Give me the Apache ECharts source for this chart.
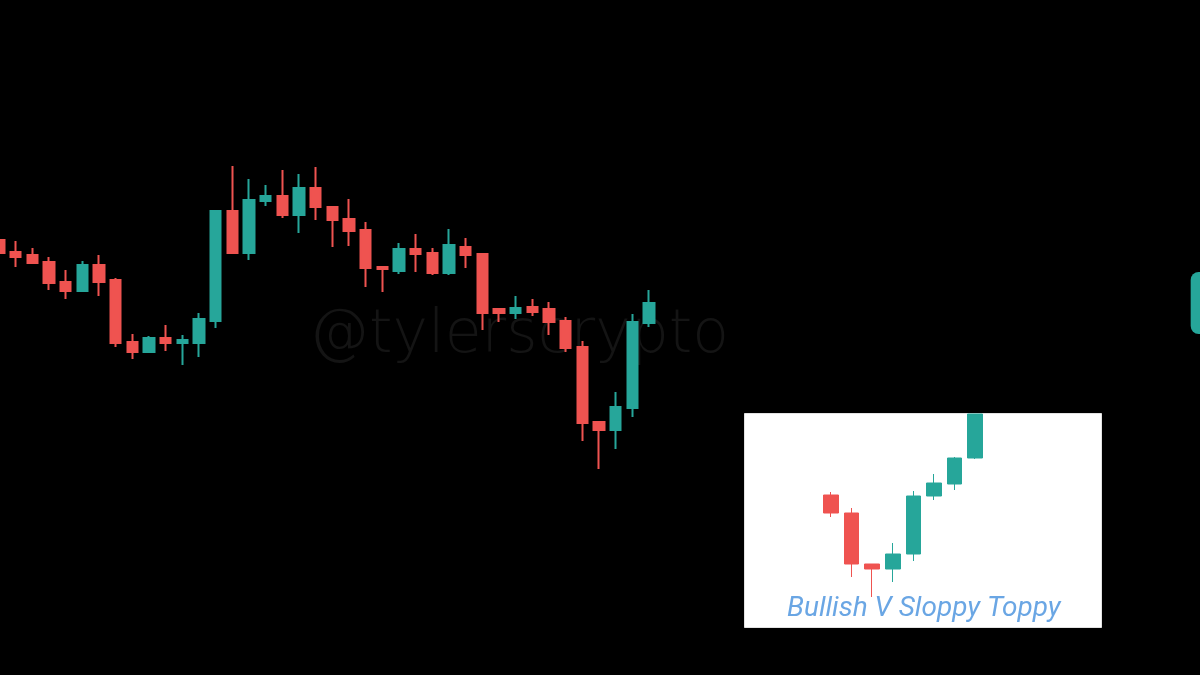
<!DOCTYPE html>
<html>
<head>
<meta charset="utf-8">
<script src="https://cdn.jsdelivr.net/npm/echarts@6/dist/echarts.min.js"></script>
<style>
html,body{margin:0;padding:0;background:#000;}
#chart{width:1200px;height:675px;}
</style>
</head>
<body>
<div id="chart"></div>
<script>
// Main chart candles: [open, close, low, high]
const mainCandles = [
  [760,747,744,785],[748,743,733,759],[745,737,736,752],[738,717,710,743],
  [718,709,701,730],[709,735,709,739],[735,718,704,745],[720,657,653,722],
  [658,648,641,666],[648,662,648,664],[662,657,649,675],[657,660,635,665],
  [657,681,643,687],[679,789,672,790],[789,747,747,834],[747,800,740,821],
  [799,804,794,815],[804,785,782,830],[785,812,767,826],[812,793,780,833],
  [793,780,753,793],[781,769,754,801],[770,732,713,778],[733,731,708,733],
  [729,751,726,757],[751,746,728,766],[747,727,725,752],[727,755,725,771],
  [753,745,732,762],[746,687,670,746],[691,687,678,691],[687,692,681,704],
  [693,688,684,701],[691,678,665,698],[679,652,648,683],[653,577,559,659],
  [578,570,531,578],[570,593,551,608],[592,678,583,686],[677,697,673,710]
];
const mainSlots = 72; // total category slots incl. empty space on the right
const lastClose = mainCandles[mainCandles.length - 1][1];

// Inset pattern candles: [open, close, low, high] (last one cut at the box top)
const insetCandles = [
  [505,487,483,508],[487,436,423,492],[436,431,403,436],[431,446,418,457],
  [446,504,439,509],[504,517,500,526],[516,542,510,543],[542,586,541,586]
];

const watermarkText = '@tylerscrypto';
const insetTitle = 'Bullish V Sloppy Toppy';

const UP = '#26a69a', DOWN = '#ef5350';

const mainCats = Array.from({length: mainSlots}, (_, i) => 'c' + i);
const insetCats = insetCandles.map((_, i) => 'p' + i);

const chart = echarts.init(document.getElementById('chart'), null, {renderer: 'canvas'});
chart.setOption({
  backgroundColor: '#000000',
  animation: false,
  graphic: [
    {
      type: 'text', z: 0, left: 309, top: 306,
      style: {
        text: watermarkText, fill: '#141414',
        font: '300 60px "DejaVu Sans"'
      }
    },
    {
      type: 'rect', z: 0, left: 744, top: 413,
      shape: {width: 357, height: 214},
      style: {fill: '#ffffff', stroke: '#e2e2e2', lineWidth: 1}
    },
    {
      type: 'text', z: 5, left: 787, top: 595,
      style: {
        text: insetTitle, fill: '#6aa6e4',
        font: 'italic 28px Roboto'
      }
    }
  ],
  grid: [
    {left: -9.33, right: 9.33, top: 0, bottom: 0, show: false, outerBoundsMode: 'none'},
    {left: 820.7, width: 164.8, top: 413, height: 214, show: false, outerBoundsMode: 'none'}
  ],
  xAxis: [
    {type: 'category', gridIndex: 0, data: mainCats, boundaryGap: true, show: false},
    {type: 'category', gridIndex: 1, data: insetCats, boundaryGap: true, show: false}
  ],
  yAxis: [
    {type: 'value', gridIndex: 0, min: 325, max: 1000, show: false},
    {type: 'value', gridIndex: 1, min: 373, max: 587, show: false}
  ],
  series: [
    {
      type: 'candlestick', xAxisIndex: 0, yAxisIndex: 0,
      data: mainCandles, barWidth: 11, clip: false,
      itemStyle: {color: UP, color0: DOWN, borderColor: UP, borderColor0: DOWN, borderWidth: 2},
      markLine: {
        silent: true, symbol: 'none', animation: false,
        lineStyle: {color: 'rgba(0,0,0,0)', width: 1, type: 'solid'},
        label: {
          show: true, position: 'end', distance: 0,
          formatter: String(lastClose),
          color: UP, backgroundColor: UP, borderRadius: 8,
          padding: [20, 30], fontSize: 20, lineHeight: 22, opacity: 1
        },
        data: [{yAxis: lastClose}]
      }
    },
    {
      type: 'candlestick', xAxisIndex: 1, yAxisIndex: 1,
      data: insetCandles, barWidth: 15, clip: true, z: 3,
      itemStyle: {color: UP, color0: DOWN, borderColor: UP, borderColor0: DOWN, borderWidth: 1}
    }
  ]
});
</script>
</body>
</html>
